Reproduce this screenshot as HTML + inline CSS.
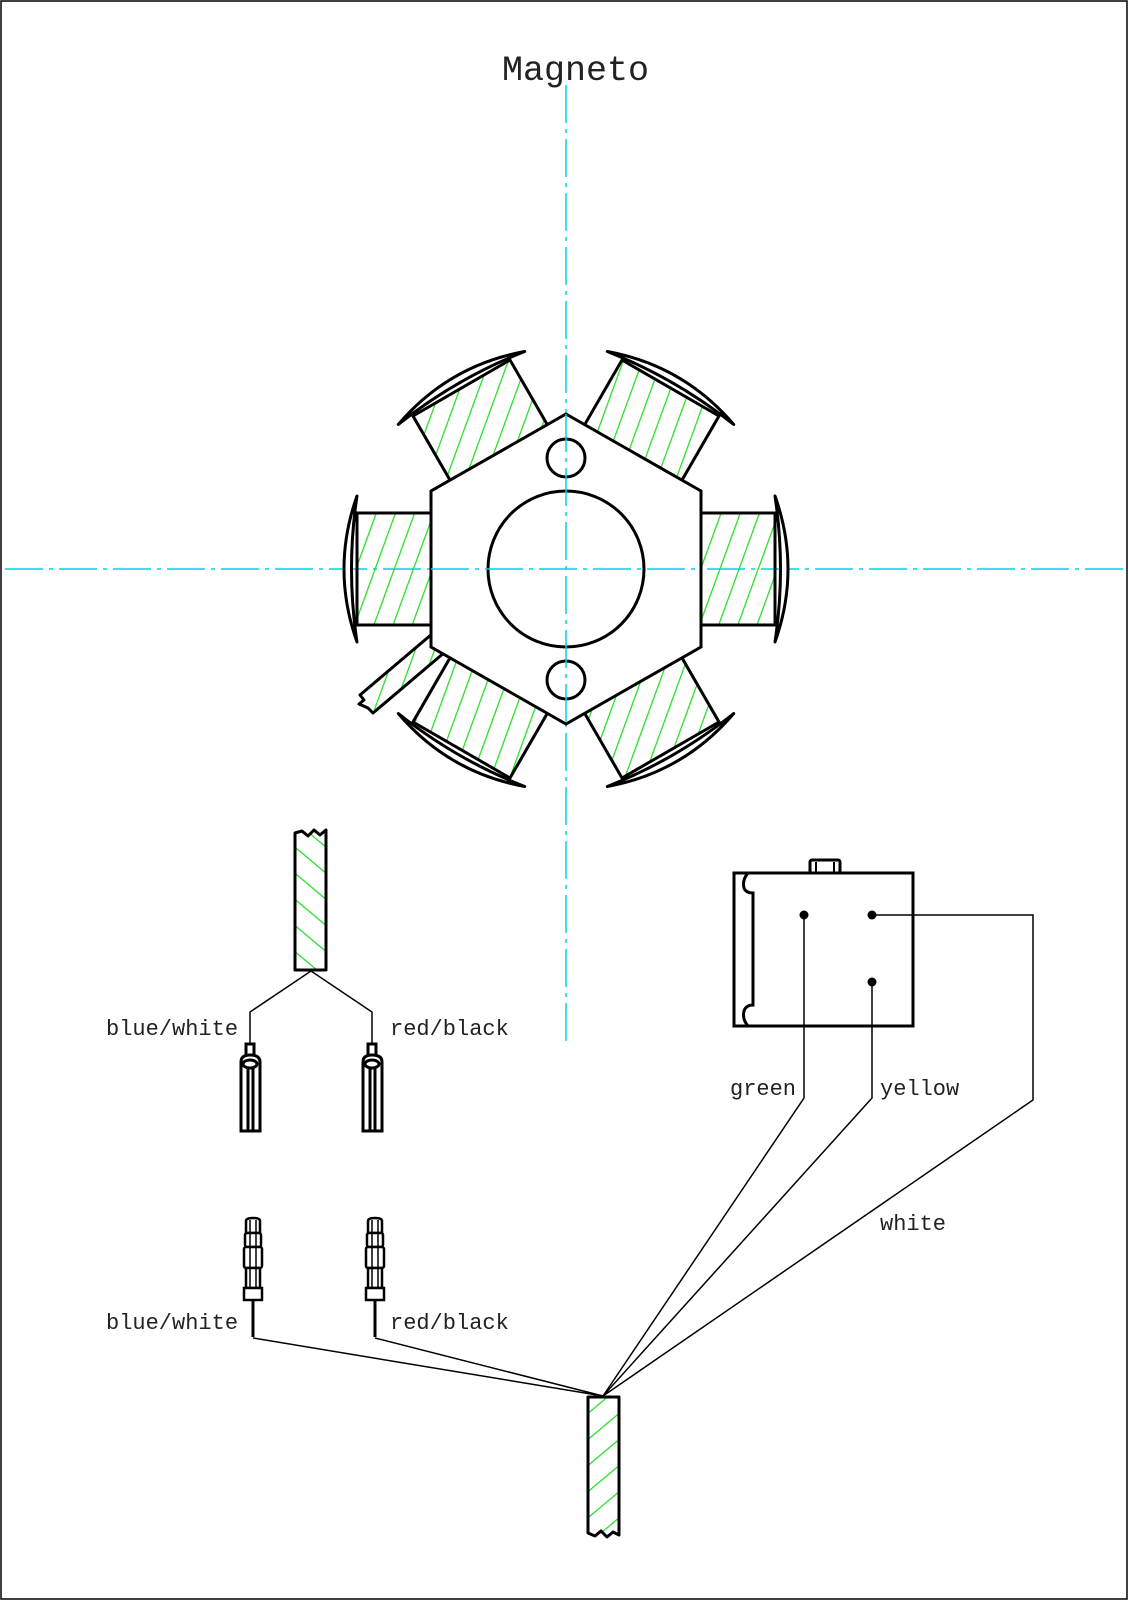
<!DOCTYPE html>
<html><head><meta charset="utf-8"><style>
html,body{margin:0;padding:0;background:#fff}
svg{display:block}
text{font-family:"Liberation Mono",monospace;fill:#222}
</style></head><body>
<svg width="1128" height="1600" viewBox="0 0 1128 1600" xmlns="http://www.w3.org/2000/svg">
<defs>
  <pattern id="p0" patternUnits="userSpaceOnUse" width="18" height="18" patternTransform="rotate(20)"><line x1="0" y1="0" x2="0" y2="18" stroke="#22dd22" stroke-width="2.5"/></pattern>
  <pattern id="p60" patternUnits="userSpaceOnUse" width="18" height="18" patternTransform="rotate(-40)"><line x1="0" y1="0" x2="0" y2="18" stroke="#22dd22" stroke-width="2.5"/></pattern>
  <pattern id="p120" patternUnits="userSpaceOnUse" width="18" height="18" patternTransform="rotate(-100)"><line x1="0" y1="0" x2="0" y2="18" stroke="#22dd22" stroke-width="2.5"/></pattern>
  <pattern id="p180" patternUnits="userSpaceOnUse" width="18" height="18" patternTransform="rotate(-160)"><line x1="0" y1="0" x2="0" y2="18" stroke="#22dd22" stroke-width="2.5"/></pattern>
  <pattern id="p240" patternUnits="userSpaceOnUse" width="18" height="18" patternTransform="rotate(-220)"><line x1="0" y1="0" x2="0" y2="18" stroke="#22dd22" stroke-width="2.5"/></pattern>
  <pattern id="p300" patternUnits="userSpaceOnUse" width="18" height="18" patternTransform="rotate(-280)"><line x1="0" y1="0" x2="0" y2="18" stroke="#22dd22" stroke-width="2.5"/></pattern>
  <pattern id="h1" patternUnits="userSpaceOnUse" width="18" height="18" patternTransform="rotate(20)"><line x1="0" y1="0" x2="0" y2="18" stroke="#22dd22" stroke-width="2.5"/></pattern>
  <pattern id="h2" patternUnits="userSpaceOnUse" width="20" height="20" patternTransform="rotate(-50)"><line x1="0" y1="0" x2="0" y2="20" stroke="#22dd22" stroke-width="2.5"/></pattern>
  <pattern id="h3" patternUnits="userSpaceOnUse" width="20" height="20" patternTransform="rotate(50)"><line x1="0" y1="0" x2="0" y2="20" stroke="#22dd22" stroke-width="2.5"/></pattern>
  <path id="cap" d="M209,-73 Q235,0 209,73 Q220,0 209,-73 Z" fill="#fff" stroke="#000" stroke-width="3" stroke-linejoin="round"/>
</defs>
<rect x="1" y="1" width="1126" height="1598" fill="none" stroke="#000" stroke-width="1.5"/>

<text x="502" y="80" font-size="35">Magneto</text>

<line x1="5" y1="569" x2="1125" y2="569" stroke="#00d4e4" stroke-width="1.5" stroke-dasharray="38,6,4,6"/>
<line x1="566" y1="85" x2="566" y2="1045" stroke="#00d4e4" stroke-width="1.5" stroke-dasharray="38,6,4,6"/>

<g transform="translate(566,569)">
  <g transform="rotate(0)"><rect x="130" y="-56" width="79" height="112" fill="url(#p0)" stroke="#000" stroke-width="3"/><use href="#cap"/></g>
  <g transform="rotate(60)"><rect x="130" y="-56" width="79" height="112" fill="url(#p60)" stroke="#000" stroke-width="3"/><use href="#cap"/></g>
  <g transform="rotate(120)"><rect x="130" y="-56" width="79" height="112" fill="url(#p120)" stroke="#000" stroke-width="3"/><use href="#cap"/></g>
  <g transform="rotate(180)"><rect x="130" y="-56" width="79" height="112" fill="url(#p180)" stroke="#000" stroke-width="3"/><use href="#cap"/></g>
  <g transform="rotate(240)"><rect x="130" y="-56" width="79" height="112" fill="url(#p240)" stroke="#000" stroke-width="3"/><use href="#cap"/></g>
  <g transform="rotate(300)"><rect x="130" y="-56" width="79" height="112" fill="url(#p300)" stroke="#000" stroke-width="3"/><use href="#cap"/></g>
</g>
<path d="M432,634 L360,695 L364,700 L359,704 L368,708 L373,713 L445,652 Z" fill="url(#h1)" stroke="#000" stroke-width="3" stroke-linejoin="round"/>
<polygon points="566,414 701,491 701,647 566,724 431,647 431,491" fill="#fff" stroke="#000" stroke-width="3"/>
<circle cx="566" cy="569" r="78" fill="none" stroke="#000" stroke-width="3"/>
<circle cx="566" cy="458" r="19" fill="none" stroke="#000" stroke-width="3"/>
<circle cx="566" cy="680" r="19" fill="none" stroke="#000" stroke-width="3"/>
<line x1="431" y1="569" x2="701" y2="569" stroke="#00d4e4" stroke-width="1.5" stroke-dasharray="38,6,4,6"/>
<line x1="566" y1="414" x2="566" y2="724" stroke="#00d4e4" stroke-width="1.5" stroke-dasharray="38,6,4,6"/>

<!-- upper cable -->
<path d="M295,970 L295,833 L302,831 L308,836 L314,830 L320,835 L326,830 L326,970 Z" fill="url(#h2)" stroke="#000" stroke-width="3" stroke-linejoin="round"/>
<polyline points="250,1043 250,1012 311,971 372,1012 372,1043" fill="none" stroke="#000" stroke-width="1.5"/>
<text x="106" y="1035" font-size="22">blue/white</text>
<text x="390" y="1035" font-size="22">red/black</text>
<g id="fc" fill="#fff" stroke="#000" stroke-width="3">
  <rect x="246" y="1044" width="8" height="12"/>
  <path d="M241,1131 L241,1062 Q241,1055 250,1055 Q260,1055 260,1062 L260,1131 Z"/>
  <ellipse cx="250" cy="1064" rx="7" ry="4"/>
  <line x1="248" y1="1068" x2="248" y2="1130"/>
  <line x1="253" y1="1068" x2="253" y2="1130"/>
</g>
<use href="#fc" x="122"/>

<!-- lower connectors -->
<g id="mc" fill="#fff" stroke="#000" stroke-width="2.5">
  <path d="M246,1233 L246,1221 Q246,1218 253,1218 Q260,1218 260,1221 L260,1233 Z"/>
  <rect x="245" y="1233" width="16" height="14" rx="2"/>
  <rect x="244" y="1247" width="18" height="21" rx="2"/>
  <rect x="246" y="1268" width="14" height="20"/>
  <rect x="244" y="1288" width="18" height="12"/>
  <line x1="250" y1="1220" x2="250" y2="1288" stroke-width="1.5"/>
  <line x1="256" y1="1220" x2="256" y2="1288" stroke-width="1.5"/>
  <line x1="253" y1="1300" x2="253" y2="1337" stroke-width="3"/>
</g>
<use href="#mc" x="122"/>
<text x="106" y="1329" font-size="22">blue/white</text>
<text x="390" y="1329" font-size="22">red/black</text>
<polyline points="253,1338 603,1396 375,1338" fill="none" stroke="#000" stroke-width="1.5"/>

<!-- bottom cable -->
<path d="M588,1397 L619,1397 L619,1535 L613,1532 L607,1537 L601,1531 L595,1536 L588,1533 Z" fill="url(#h3)" stroke="#000" stroke-width="3" stroke-linejoin="round"/>
<path d="M603,1396 L804,1098 L804,915 M603,1396 L872,1098 L872,982 M603,1396 L1033,1100 L1033,915 L872,915" fill="none" stroke="#000" stroke-width="1.5"/>
<text x="730" y="1095" font-size="22">green</text>
<text x="880" y="1095" font-size="22">yellow</text>
<text x="880" y="1230" font-size="22">white</text>

<!-- box -->
<rect x="810" y="860" width="30" height="13" rx="2" fill="#fff" stroke="#000" stroke-width="3"/>
<line x1="816" y1="862" x2="816" y2="872" stroke="#000" stroke-width="2"/>
<line x1="834" y1="862" x2="834" y2="872" stroke="#000" stroke-width="2"/>
<rect x="734" y="873" width="179" height="153" fill="none" stroke="#000" stroke-width="3"/>
<path d="M748,873 Q742,880 744,888 Q746,893 753,893 L753,1005 Q746,1005 744,1011 Q742,1019 748,1026" fill="none" stroke="#000" stroke-width="3"/>
<circle cx="804" cy="915" r="4.5" fill="#000"/>
<circle cx="872" cy="915" r="4.5" fill="#000"/>
<circle cx="872" cy="982" r="4.5" fill="#000"/>
</svg>
</body></html>
